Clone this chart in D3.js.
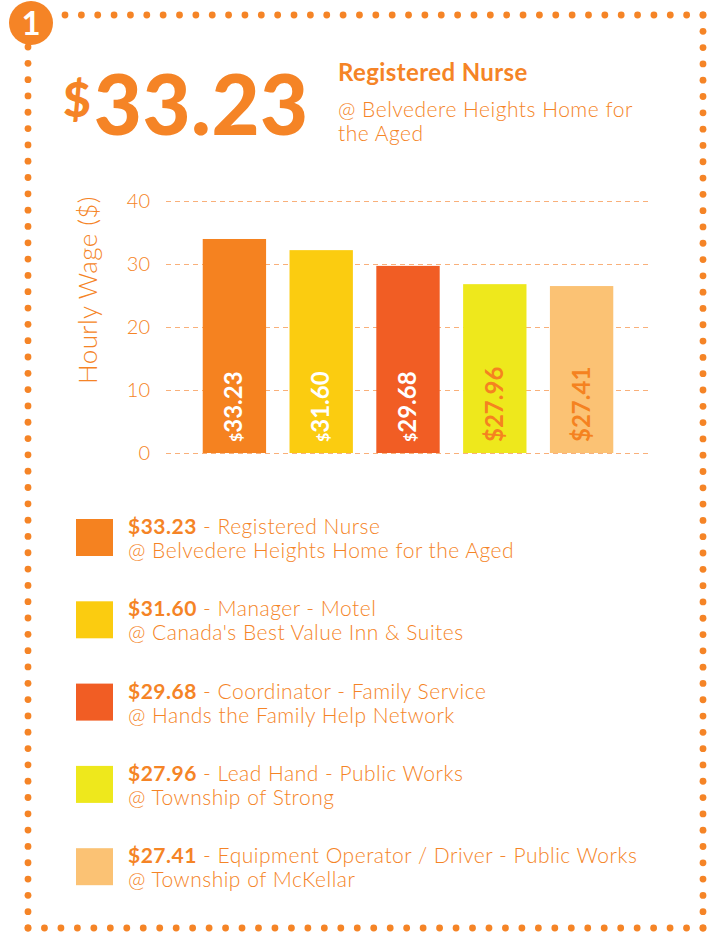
<!DOCTYPE html>
<html>
<head>
<meta charset="utf-8">
<script src="https://cdn.jsdelivr.net/npm/d3@7"></script>
<style>
  html, body { margin: 0; padding: 0; background: #ffffff; }
  svg { display: block; font-family: "Lato", "Open Sans", sans-serif; }
</style>
</head>
<body>
<svg id="chart" width="717" height="932"></svg>
<script>
// ---- data ----
const categories = ["Registered Nurse", "Manager - Motel", "Coordinator - Family Service", "Lead Hand - Public Works", "Equipment Operator / Driver - Public Works"];
const employers = ["@ Belvedere Heights Home for the Aged", "@ Canada's Best Value Inn & Suites", "@ Hands the Family Help Network", "@ Township of Strong", "@ Township of McKellar"];
const wageLabels = ["33.23", "31.60", "29.68", "27.96", "27.41"];
const barValues = [33.97, 32.2, 29.7, 26.8, 26.5];
const yTicks = [0, 10, 20, 30, 40];
const barColors = ["#F58220", "#FBCC10", "#F15D24", "#EEE81C", "#FBC274"];
const labelColors = ["#FFFFFF", "#FFFFFF", "#FFFFFF", "#F58220", "#F58220"];

const ORANGE = "#F58426";
const GRID = "#F9B07A";

const svg = d3.select("#chart");

// ---- dotted border ----
const dots = svg.append("g").attr("fill", ORANGE);
function dotLine(x0, y0, x1, y1, step) {
  const len = Math.hypot(x1 - x0, y1 - y0);
  const n = Math.round(len / step);
  for (let i = 0; i <= n; i++) {
    dots.append("circle")
      .attr("cx", x0 + (x1 - x0) * i / n)
      .attr("cy", y0 + (y1 - y0) * i / n)
      .attr("r", 3.4);
  }
}
dotLine(65, 15, 703, 15, 16.2);
dotLine(703, 15, 703, 928, 16.3);
dotLine(28, 47, 28, 928, 16.3);
dotLine(28, 928, 703, 928, 16.3);

// badge
svg.append("circle").attr("cx", 31).attr("cy", 23).attr("r", 22).attr("fill", ORANGE);
svg.append("text").attr("x", 31).attr("y", 35).attr("text-anchor", "middle")
  .attr("fill", "#fff").attr("font-size", 33).attr("font-weight", 700).text("1");

// ---- header ----
const big = svg.append("text").attr("x", 63).attr("y", 135).attr("fill", ORANGE).attr("font-weight", 900);
big.append("tspan").attr("font-size", 48).attr("dy", -18).text("$");
big.append("tspan").attr("font-size", 83).attr("dy", 18).attr("dx", 3).attr("letter-spacing", 0.5).text(wageLabels[0]);

svg.append("text").attr("x", 338).attr("y", 81).attr("fill", ORANGE)
  .attr("font-size", 24).attr("font-weight", 700).attr("letter-spacing", 0.4).text(categories[0]);
svg.append("text").attr("x", 338).attr("y", 117).attr("fill", ORANGE)
  .attr("font-size", 21).attr("font-weight", 300).attr("letter-spacing", 0.5).text("@ Belvedere Heights Home for");
svg.append("text").attr("x", 338).attr("y", 141).attr("fill", ORANGE)
  .attr("font-size", 21).attr("font-weight", 300).attr("letter-spacing", 0.5).text("the Aged");

// ---- chart ----
const y = d3.scaleLinear().domain([0, 40]).range([453, 201]);
const x = d3.scaleBand().domain(categories).range([191, 625]).paddingInner(0.27).paddingOuter(0.135);

const gridLeft = 166, gridRight = 652;
const yAxis = svg.append("g").attr("transform", `translate(${gridLeft},0)`)
  .call(d3.axisLeft(y).tickValues(yTicks).tickSize(-(gridRight - gridLeft)).tickPadding(16).tickFormat(d3.format("d")));
yAxis.select(".domain").remove();
yAxis.selectAll(".tick line").attr("stroke", GRID).attr("stroke-width", 1.2).attr("stroke-dasharray", "5,4");
yAxis.selectAll(".tick text").attr("fill", ORANGE).attr("font-size", 20).attr("font-weight", 300)
  .attr("font-family", "Lato, sans-serif");

svg.append("text")
  .attr("transform", "translate(97,290) rotate(-90)")
  .attr("text-anchor", "middle").attr("fill", ORANGE)
  .attr("font-size", 26).attr("font-weight", 300).attr("letter-spacing", 0.4).text("Hourly Wage ($)");

const bars = svg.append("g");
bars.selectAll("rect").data(barValues).join("rect")
  .attr("x", (d, i) => x(categories[i]))
  .attr("y", d => y(d))
  .attr("width", x.bandwidth())
  .attr("height", d => y(0) - y(d))
  .attr("fill", (d, i) => barColors[i]);

const lbls = bars.selectAll("text.bl").data(wageLabels).join("text")
  .attr("class", "bl")
  .attr("transform", (d, i) => `translate(${x(categories[i]) + x.bandwidth() / 2 + 8},442) rotate(-90)`)
  .attr("fill", (d, i) => labelColors[i])
  .attr("font-size", 24).attr("font-weight", 700);
lbls.append("tspan").attr("font-size", (d, i) => i < 3 ? 16 : 24).text("$");
lbls.append("tspan").text(d => d);

// ---- legend ----
const legend = svg.append("g");
const legStep = 82.3;
categories.forEach((c, i) => {
  const ty = 519 + i * legStep;
  legend.append("rect").attr("x", 76).attr("y", ty).attr("width", 37).attr("height", 37).attr("fill", barColors[i]);
  const t1 = legend.append("text").attr("x", 128).attr("y", ty + 15).attr("fill", ORANGE)
    .attr("font-size", 21).attr("letter-spacing", 0.5);
  t1.append("tspan").attr("font-weight", 700).text("$" + wageLabels[i]);
  t1.append("tspan").attr("font-weight", 300).text(" - " + c);
  legend.append("text").attr("x", 128).attr("y", ty + 39).attr("fill", ORANGE)
    .attr("font-size", 21).attr("font-weight", 300).attr("letter-spacing", 0.5).text(employers[i]);
});
</script>
</body>
</html>
